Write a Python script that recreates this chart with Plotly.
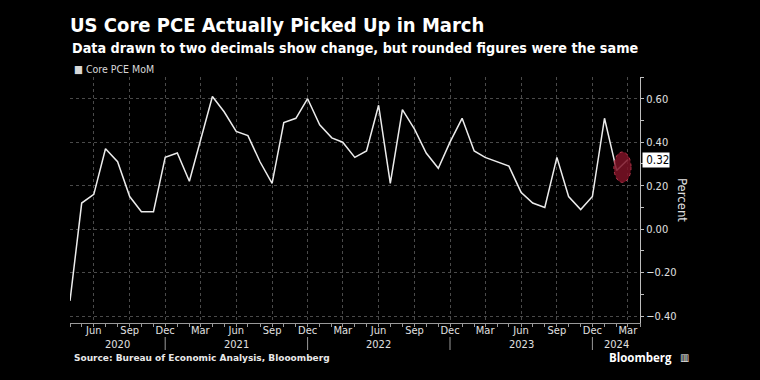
import plotly.graph_objects as go

months = [
    "2020-04", "2020-05", "2020-06", "2020-07", "2020-08", "2020-09", "2020-10", "2020-11", "2020-12",
    "2021-01", "2021-02", "2021-03", "2021-04", "2021-05", "2021-06", "2021-07", "2021-08", "2021-09",
    "2021-10", "2021-11", "2021-12",
    "2022-01", "2022-02", "2022-03", "2022-04", "2022-05", "2022-06", "2022-07", "2022-08", "2022-09",
    "2022-10", "2022-11", "2022-12",
    "2023-01", "2023-02", "2023-03", "2023-04", "2023-05", "2023-06", "2023-07", "2023-08", "2023-09",
    "2023-10", "2023-11", "2023-12",
    "2024-01", "2024-02", "2024-03",
]
core_pce_mom = [
    -0.33, 0.12, 0.16, 0.37, 0.31, 0.15, 0.08, 0.08, 0.33,
    0.35, 0.22, 0.41, 0.61, 0.54, 0.45, 0.43, 0.31, 0.21, 0.49, 0.51, 0.60,
    0.48, 0.42, 0.40, 0.33, 0.36, 0.57, 0.21, 0.55, 0.46, 0.35, 0.28, 0.40,
    0.51, 0.36, 0.33, 0.31, 0.29, 0.17, 0.12, 0.10, 0.33, 0.15, 0.09, 0.15,
    0.51, 0.27, 0.32,
]
dates = [m + "-01" for m in months]

tick_dates = ["2020-06-01", "2020-09-01", "2020-12-01", "2021-03-01", "2021-06-01", "2021-09-01",
              "2021-12-01", "2022-03-01", "2022-06-01", "2022-09-01", "2022-12-01", "2023-03-01",
              "2023-06-01", "2023-09-01", "2023-12-01", "2024-03-01"]
tick_text = ["Jun", "Sep", "Dec", "Mar"] * 4
year_labels = ["2020", "2021", "2022", "2023", "2024"]
year_pos = ["2020-08-01", "2021-06-01", "2022-06-01", "2023-06-01", "2024-02-01"]
year_seps = ["2020-12-01", "2021-12-01", "2022-12-01", "2023-12-01"]

title = "US Core PCE Actually Picked Up in March"
subtitle = "Data drawn to two decimals show change, but rounded figures were the same"
source = "Source: Bureau of Economic Analysis, Blooomberg"
series_name = "Core PCE MoM"
last_label = "0.32"

FONT = "DejaVu Sans Condensed, DejaVu Sans, sans-serif"
TXT = "#e0e0e0"
GRID = "#4a4a4a"

# plot area in pixels
L, R, T, B = 70, 640, 77, 323


def py(p):
    return (B - p) / (B - T)


def px(p):
    return (p - L) / (R - L)


fig = go.Figure()
fig.add_trace(go.Scatter(x=dates, y=core_pce_mom, mode="lines",
                         line=dict(color="#ececec", width=1.5), showlegend=False,
                         name=series_name))

# highlight ellipse around the last two points
fig.add_shape(type="circle", xref="x", yref="y",
              x0="2024-01-25", x1="2024-03-09", y0=0.215, y1=0.355,
              fillcolor="rgba(125,18,38,0.85)", line=dict(color="#b8374d", width=1, dash="dot"),
              layer="above")

for s in year_seps:
    fig.add_shape(type="line", xref="x", yref="paper", x0=s, x1=s, y0=py(337), y1=py(350),
                  line=dict(color="#9a9a9a", width=1))

annotations = []
for lab, pos in zip(year_labels, year_pos):
    annotations.append(dict(text=lab, x=pos, xref="x", y=py(344), yref="paper",
                            showarrow=False, font=dict(size=11, color=TXT, family=FONT),
                            xanchor="center", yanchor="middle"))

annotations += [
    dict(text="<b>" + subtitle + "</b>", x=0, xref="paper", xanchor="left",
         y=py(48), yref="paper", yanchor="middle", showarrow=False,
         font=dict(size=14.25, color="#ffffff", family=FONT)),
    dict(text="■ " + series_name, x=px(72), xref="paper", xanchor="left",
         y=py(69), yref="paper", yanchor="middle", showarrow=False,
         font=dict(size=10.5, color="#d8d8d8", family=FONT)),
    dict(text="<b>" + source + "</b>", x=px(72), xref="paper", xanchor="left",
         y=py(358), yref="paper", yanchor="middle", showarrow=False,
         font=dict(size=9, color="#e8e8e8", family="DejaVu Sans, sans-serif")),
    dict(text="<b>Bloomberg</b>", x=px(674), xref="paper", xanchor="right",
         y=py(357), yref="paper", yanchor="middle", showarrow=False,
         font=dict(size=11.5, color="#ffffff", family="Open Sans, sans-serif")),
    dict(text="▥", x=px(678), xref="paper", xanchor="left",
         y=py(357), yref="paper", yanchor="middle", showarrow=False,
         font=dict(size=10, color="#ffffff", family="DejaVu Sans, sans-serif")),
    dict(text=" " + last_label, x=1, xref="paper", xanchor="left", xshift=2,
         y=core_pce_mom[-1], yref="y", yanchor="middle", showarrow=False,
         bgcolor="#ffffff", font=dict(size=11.5, color="#000000", family=FONT),
         borderpad=0),
    dict(text="Percent", x=px(683), xref="paper", xanchor="center",
         y=py(200), yref="paper", yanchor="middle", showarrow=False, textangle=90,
         font=dict(size=13, color=TXT, family=FONT)),
]

fig.update_layout(
    width=760, height=380,
    paper_bgcolor="#000000", plot_bgcolor="#000000",
    margin=dict(l=L, r=760 - R, t=T, b=380 - B),
    title=dict(text="<b>" + title + "</b>", x=0, xref="paper", xanchor="left",
               y=1 - 25 / 380, yref="container", yanchor="middle",
               font=dict(size=20, color="#ffffff", family=FONT)),
    annotations=annotations,
    xaxis=dict(type="date", range=["2020-04-01", "2024-04-01"],
               tickvals=tick_dates, ticktext=tick_text,
               tickfont=dict(size=11, color=TXT, family=FONT),
               ticklabelstandoff=-6,
               showgrid=True, gridcolor=GRID, griddash="dot", gridwidth=1,
               showline=True, linecolor="#9a9a9a", linewidth=1,
               ticks="outside", ticklen=3, tickcolor="#9a9a9a",
               minor=dict(dtick="M1", tick0="2020-04-01", ticks="outside", ticklen=3,
                          tickcolor="#9a9a9a", showgrid=False),
               zeroline=False, fixedrange=True),
    yaxis=dict(side="right", range=[-0.432, 0.70], tickvals=[-0.4, -0.2, 0, 0.2, 0.4, 0.6],
               tickformat=".2f",
               tickfont=dict(size=11, color=TXT, family=FONT),
               showgrid=True, gridcolor=GRID, griddash="dot", gridwidth=1,
               showline=True, linecolor="#bdbdbd", linewidth=1,
               ticks="outside", ticklen=3, tickcolor="#bdbdbd",
               minor=dict(dtick=0.1, tick0=0, ticks="outside", ticklen=3,
                          tickcolor="#bdbdbd", showgrid=False),
               zeroline=False, fixedrange=True),
    showlegend=False,
)

fig.write_html("out.html", config={"displayModeBar": False},
               post_script="document.body.style.margin='0';document.body.style.background='#000';")
